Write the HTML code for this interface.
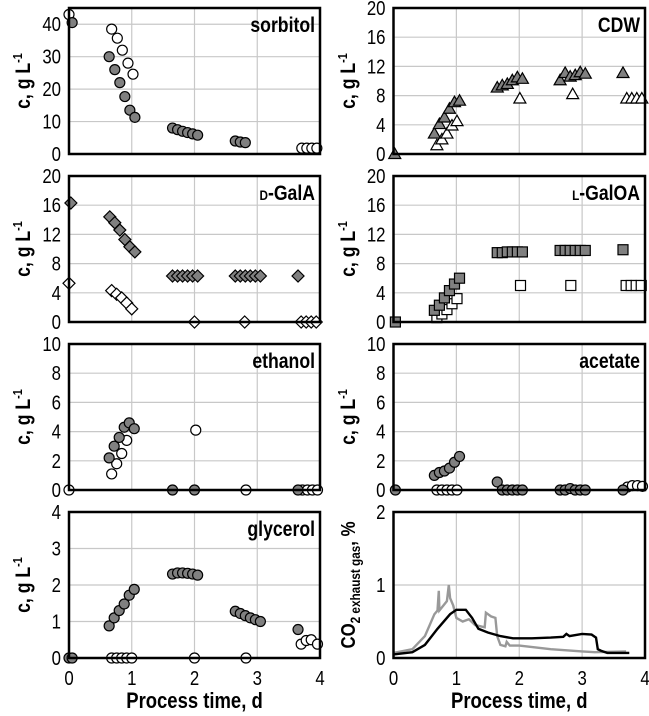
<!DOCTYPE html>
<html><head><meta charset="utf-8"><style>
html,body{margin:0;padding:0;background:#fff;}
svg{display:block;font-family:"Liberation Sans Narrow","Liberation Sans",Arial,sans-serif;}
</style></head><body>
<svg id="chart" width="649" height="716" viewBox="0 0 649 716"></svg>
<script>
// ---- data ----
const sorbFilledT=[0.05,0.64,0.73,0.81,0.89,0.97,1.05,1.65,1.73,1.81,1.89,1.97,2.05,2.65,2.73,2.81];
const sorbFilledV=[40.5,30,26,22,17.7,13.5,11.3,8,7.5,7,6.6,6.2,5.8,4,3.7,3.5];
const sorbOpenT=[0,0.68,0.77,0.85,0.94,1.02,3.71,3.79,3.87,3.95];
const sorbOpenV=[43,38.5,35.7,32,28,24.6,1.8,1.8,1.8,1.8];
const cdwFilledT=[0.02,0.65,0.73,0.81,0.89,0.97,1.05,1.65,1.73,1.81,1.89,1.97,2.05,2.65,2.73,2.81,2.89,2.97,3.05,3.65];
const cdwFilledV=[0,2.8,4.1,5.0,6.2,7.1,7.3,9.1,9.4,9.6,10.1,10.5,10.3,10.1,11.1,10.6,10.8,11.2,11,11.1];
const cdwOpenT=[0.69,0.77,0.85,0.93,1.01,2.01,2.85,3.71,3.79,3.87,3.95];
const cdwOpenV=[1.2,2.0,2.8,3.9,4.5,7.6,8.2,7.6,7.6,7.6,7.6];
const galaFilledT=[0.03,0.65,0.73,0.81,0.89,0.97,1.05,1.65,1.73,1.81,1.89,1.97,2.05,2.65,2.73,2.81,2.89,2.97,3.05,3.65];
const galaFilledV=[16.3,14.4,13.6,12.6,11.3,10.3,9.6,6.3,6.3,6.3,6.3,6.3,6.3,6.3,6.3,6.3,6.3,6.3,6.3,6.3];
const galaOpenT=[0,0.68,0.76,0.84,0.92,1.0,2.0,2.8,3.7,3.78,3.86,3.94];
const galaOpenV=[5.3,4.3,3.8,3.3,2.6,1.8,0,0,0,0,0,0];
const galoaFilledT=[0.03,0.65,0.73,0.81,0.89,0.97,1.05,1.65,1.73,1.81,1.89,1.97,2.05,2.65,2.73,2.81,2.89,2.97,3.05,3.65];
const galoaFilledV=[0,1.6,2.3,3.3,4.3,5.2,6.0,9.5,9.5,9.6,9.6,9.6,9.6,9.8,9.8,9.8,9.8,9.8,9.8,9.9];
const galoaOpenT=[0.69,0.77,0.85,0.93,1.01,2.02,2.82,3.7,3.78,3.86,3.94];
const galoaOpenV=[0.6,1.1,1.7,2.5,3.2,5,5,5,5,5,5];
const ethFilledT=[0.64,0.72,0.8,0.88,0.96,1.04,1.65,2.0,3.65];
const ethFilledV=[2.2,3.0,3.6,4.3,4.6,4.2,0,0,0];
const ethOpenT=[0,0.68,0.76,0.84,0.92,2.02,2.82,3.72,3.8,3.88,3.96];
const ethOpenV=[0,1.1,1.8,2.5,3.4,4.1,0,0,0,0,0];
const aceFilledT=[0.03,0.65,0.73,0.81,0.89,0.97,1.05,1.65,1.73,1.81,1.89,1.97,2.05,2.65,2.73,2.81,2.89,2.97,3.05,3.65];
const aceFilledV=[0,1.0,1.2,1.3,1.5,1.9,2.3,0.55,0,0,0,0,0,0,0,0.1,0,0,0,0];
const aceOpenT=[0.69,0.77,0.85,0.93,1.01,3.72,3.8,3.88,3.96];
const aceOpenV=[0,0,0,0,0,0.2,0.3,0.3,0.25];
const glyFilledT=[0,0.05,0.64,0.72,0.8,0.88,0.96,1.04,1.65,1.73,1.81,1.89,1.97,2.05,2.65,2.73,2.81,2.89,2.97,3.05,3.65];
const glyFilledV=[0,0,0.88,1.1,1.3,1.48,1.72,1.88,2.3,2.33,2.33,2.32,2.3,2.27,1.28,1.22,1.16,1.1,1.05,1.0,0.78];
const glyOpenT=[0.68,0.76,0.84,0.92,1.0,2.0,2.82,3.7,3.78,3.86,3.96];
const glyOpenV=[0,0,0,0,0,0,0,0.38,0.48,0.5,0.38];
const co2BlackT=[0,0.3,0.5,0.7,0.9,1.0,1.15,1.25,1.35,1.5,1.7,1.9,2.2,2.5,2.7,2.75,2.8,3.0,3.15,3.22,3.25,3.3,3.4,3.75];
const co2BlackV=[0.05,0.08,0.18,0.4,0.6,0.66,0.66,0.55,0.4,0.35,0.3,0.27,0.27,0.28,0.29,0.33,0.3,0.33,0.32,0.28,0.12,0.1,0.07,0.07];
const co2GreyT=[0,0.3,0.5,0.65,0.7,0.72,0.73,0.85,0.88,0.9,0.95,1.0,1.1,1.2,1.3,1.45,1.47,1.55,1.62,1.65,1.7,1.78,1.8,1.85,2.0,2.5,3.0,3.2,3.7];
const co2GreyV=[0.07,0.12,0.3,0.6,0.65,0.92,0.65,0.78,1.0,0.82,0.72,0.55,0.5,0.53,0.45,0.42,0.62,0.57,0.55,0.3,0.18,0.16,0.22,0.17,0.17,0.12,0.09,0.08,0.09];

const svg=document.getElementById('chart');
const NS='http://www.w3.org/2000/svg';
function mk(tag,attrs,parent){const e=document.createElementNS(NS,tag);for(const k in attrs)e.setAttribute(k,attrs[k]);(parent||svg).appendChild(e);return e;}
const SX=0.84;
function txt(x,y,anchor,size,bold,parent,extra){
  const e=mk('text',{x:0,y:0,transform:`translate(${x},${y}) ${extra||''} scale(${SX},1)`,'text-anchor':anchor,'font-size':size},parent);
  if(bold)e.setAttribute('font-weight','bold');
  return e;
}

const cols=[{x0:69,x1:320,tx:22},{x0:393.5,x1:645,tx:347}];
const rows=[{y0:8,y1:154},{y0:176,y1:322},{y0:344,y1:490},{y0:512,y1:658}];

function panel(name,col,row,ymax,ticks,label,series,showX,ytitle){
  const c=cols[col],r=rows[row];
  const g=mk('g',{});
  
  
  const sx=t=>c.x0+(c.x1-c.x0)*t/4;
  const sy=v=>r.y1-(r.y1-r.y0)*v/ymax;
  [1,2,3].forEach(t=>{const l=mk('line',{x1:sx(t),x2:sx(t),y1:r.y0,y2:r.y1,stroke:'#c8c8c8','stroke-width':1.2},g);});
  ticks.forEach(v=>{
    if(v>0&&v<ymax){const l=mk('line',{x1:c.x0,x2:c.x1,y1:sy(v),y2:sy(v),stroke:'#c8c8c8','stroke-width':1.2},g);}
    const tx=txt(c.x0-8,sy(v)+7,'end',20,false,g);
    tx.textContent=v;
    
    
  });
  const yt=mk('text',{x:0,y:0,transform:`translate(${c.tx+8},${(r.y0+r.y1)/2}) rotate(-90) scale(${SX},1)`,'text-anchor':'middle','font-size':21,'font-weight':'bold'},g);
  
  
  if(ytitle==='co2'){
    yt.setAttribute('font-size',20);
    yt.innerHTML='CO<tspan font-size="14" dy="5">2 exhaust gas</tspan><tspan dy="-5">, %</tspan>';
  } else {
    yt.innerHTML='c, g L<tspan font-size="13" dy="-8">-1</tspan>';
  }
  series.forEach(s=>{
    if(s.type==='line'){
      const d=s.t.map((t,i)=>(i?'L':'M')+sx(t).toFixed(1)+','+sy(s.v[i]).toFixed(1)).join(' ');
      const p=mk('path',{d:d,fill:'none',stroke:s.color,'stroke-width':2.4},g);
      
      
      return;
    }
    s.t.forEach((t,i)=>{
      const x=sx(t),y=sy(s.v[i]);let m;
      const st={fill:s.fill,stroke:'#000','stroke-width':1.2};
      if(s.type==='circle') m=mk('circle',Object.assign({cx:x,cy:y,r:5},st),g);
      else if(s.type==='square') m=mk('rect',Object.assign({x:x-5,y:y-5,width:10,height:10},st),g);
      else if(s.type==='diamond') m=mk('polygon',Object.assign({points:`${x},${y-6} ${x+6},${y} ${x},${y+6} ${x-6},${y}`},st),g);
      else m=mk('polygon',Object.assign({points:`${x},${y-6} ${x+6},${y+4.5} ${x-6},${y+4.5}`},st),g);
      
      
    });
  });
  const f=mk('rect',{x:c.x0,y:r.y0,width:c.x1-c.x0,height:r.y1-r.y0,fill:'none',stroke:'#000','stroke-width':2.5},g);
  
  
  const lb=txt(c.x1-5,r.y0+24,'end',21,true,g);
  lb.innerHTML=label;
  
  
  if(showX){
    [0,1,2,3,4].forEach(t=>{
      const tx=txt(sx(t),r.y1+27,'middle',20,false,g);
      tx.textContent=t;
      
      
    });
    const xt=txt((c.x0+c.x1)/2,r.y1+50,'middle',22,true,g);
    xt.textContent='Process time, d';
    
    
  }
}
const G='#808080',W='#fff';
panel('sorbitol',0,0,45,[0,10,20,30,40],'sorbitol',[
 {type:'circle',t:sorbOpenT,v:sorbOpenV,fill:W,name:'sorbitol-open-point'},
 {type:'circle',t:sorbFilledT,v:sorbFilledV,fill:G,name:'sorbitol-filled-point'}],false);
panel('cdw',1,0,20,[0,4,8,12,16,20],'CDW',[
 {type:'triangle',t:cdwOpenT,v:cdwOpenV,fill:W,name:'cdw-open-point'},
 {type:'triangle',t:cdwFilledT,v:cdwFilledV,fill:G,name:'cdw-filled-point'}],false);
panel('d-gala',0,1,20,[0,4,8,12,16,20],'<tspan font-size="14">D</tspan>-GalA',[
 {type:'diamond',t:galaOpenT,v:galaOpenV,fill:W,name:'gala-open-point'},
 {type:'diamond',t:galaFilledT,v:galaFilledV,fill:G,name:'gala-filled-point'}],false);
panel('l-galoa',1,1,20,[0,4,8,12,16,20],'<tspan font-size="14">L</tspan>-GalOA',[
 {type:'square',t:galoaOpenT,v:galoaOpenV,fill:W,name:'galoa-open-point'},
 {type:'square',t:galoaFilledT,v:galoaFilledV,fill:G,name:'galoa-filled-point'}],false);
panel('ethanol',0,2,10,[0,2,4,6,8,10],'ethanol',[
 {type:'circle',t:ethOpenT,v:ethOpenV,fill:W,name:'ethanol-open-point'},
 {type:'circle',t:ethFilledT,v:ethFilledV,fill:G,name:'ethanol-filled-point'}],false);
panel('acetate',1,2,10,[0,2,4,6,8,10],'acetate',[
 {type:'circle',t:aceOpenT,v:aceOpenV,fill:W,name:'acetate-open-point'},
 {type:'circle',t:aceFilledT,v:aceFilledV,fill:G,name:'acetate-filled-point'}],false);
panel('glycerol',0,3,4,[0,1,2,3,4],'glycerol',[
 {type:'circle',t:glyOpenT,v:glyOpenV,fill:W,name:'glycerol-open-point'},
 {type:'circle',t:glyFilledT,v:glyFilledV,fill:G,name:'glycerol-filled-point'}],true);
panel('co2',1,3,2,[0,1,2],'',[
 {type:'line',t:co2GreyT,v:co2GreyV,color:'#999',name:'co2-grey-line'},
 {type:'line',t:co2BlackT,v:co2BlackV,color:'#000',name:'co2-black-line'}],true,'co2');
</script>
</body></html>
